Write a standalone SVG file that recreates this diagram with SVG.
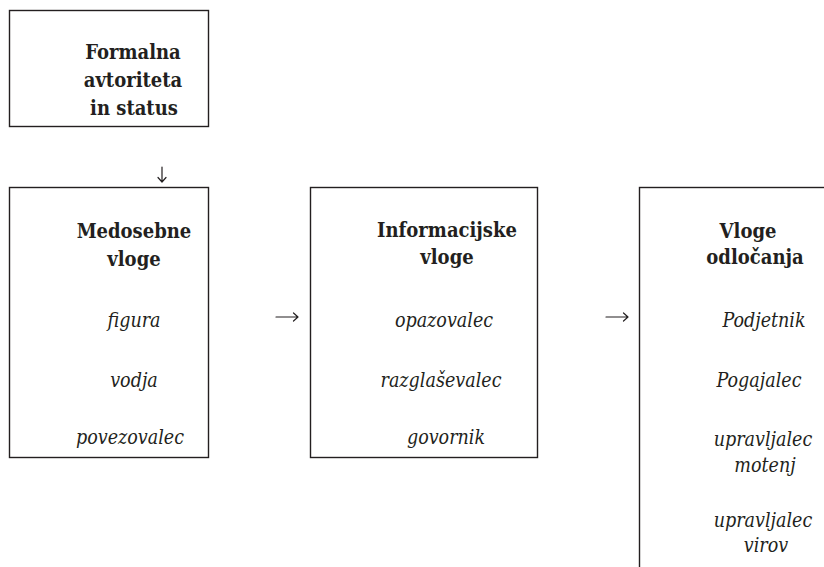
<svg xmlns="http://www.w3.org/2000/svg" width="824" height="567" viewBox="0 0 824 567">
<style>
.box{fill:#fff;stroke:#231f20;stroke-width:1.4}
.t{font-family:'DejaVu Serif',serif;font-stretch:condensed;font-weight:bold;font-size:20px;fill:#231f20;text-anchor:middle}
.i{font-family:'DejaVu Serif',serif;font-stretch:condensed;font-style:italic;font-size:19.5px;fill:#231f20;text-anchor:middle}
.c{fill:none;stroke:#231f20;stroke-width:1.2;stroke-linecap:round;stroke-linejoin:round}
</style>
<rect width="824" height="567" fill="#fff"/>
<g id="formalna">
<rect class="box" x="9.5" y="10.5" width="199" height="116"/>
<text class="t" x="133" y="59">Formalna</text>
<text class="t" x="133" y="87">avtoriteta</text>
<text class="t" x="134" y="115">in status</text>
</g>
<g id="medosebne">
<rect class="box" x="9.5" y="187.5" width="199" height="270"/>
<text class="t" x="134" y="238">Medosebne</text>
<text class="t" x="134" y="266">vloge</text>
<text class="i" x="134" y="327">figura</text>
<text class="i" x="134" y="387">vodja</text>
<text class="i" x="130" y="444">povezovalec</text>
</g>
<g id="informacijske">
<rect class="box" x="310.5" y="187.5" width="227" height="270"/>
<text class="t" x="447" y="237">Informacijske</text>
<text class="t" x="447" y="264">vloge</text>
<text class="i" x="444" y="327">opazovalec</text>
<text class="i" x="441" y="387">razglaševalec</text>
<text class="i" x="446" y="444">govornik</text>
</g>
<g id="odlocanja">
<rect class="box" x="639.5" y="187.5" width="200" height="400"/>
<text class="t" x="748" y="238">Vloge</text>
<text class="t" x="755" y="264">odločanja</text>
<text class="i" x="764" y="327">Podjetnik</text>
<text class="i" x="759" y="387">Pogajalec</text>
<text class="i" x="763" y="446">upravljalec</text>
<text class="i" x="765" y="472">motenj</text>
<text class="i" x="763" y="527">upravljalec</text>
<text class="i" x="766" y="552">virov</text>
</g>
<g id="connectors">
<path class="c" d="M162 167 V182 M158 177.5 L162 182 L166 177.5"/>
<path class="c" d="M276 317 H298 M293.5 313 L298 317 L293.5 321"/>
<path class="c" d="M606 317 H628 M623.5 313 L628 317 L623.5 321"/>
</g>
</svg>
